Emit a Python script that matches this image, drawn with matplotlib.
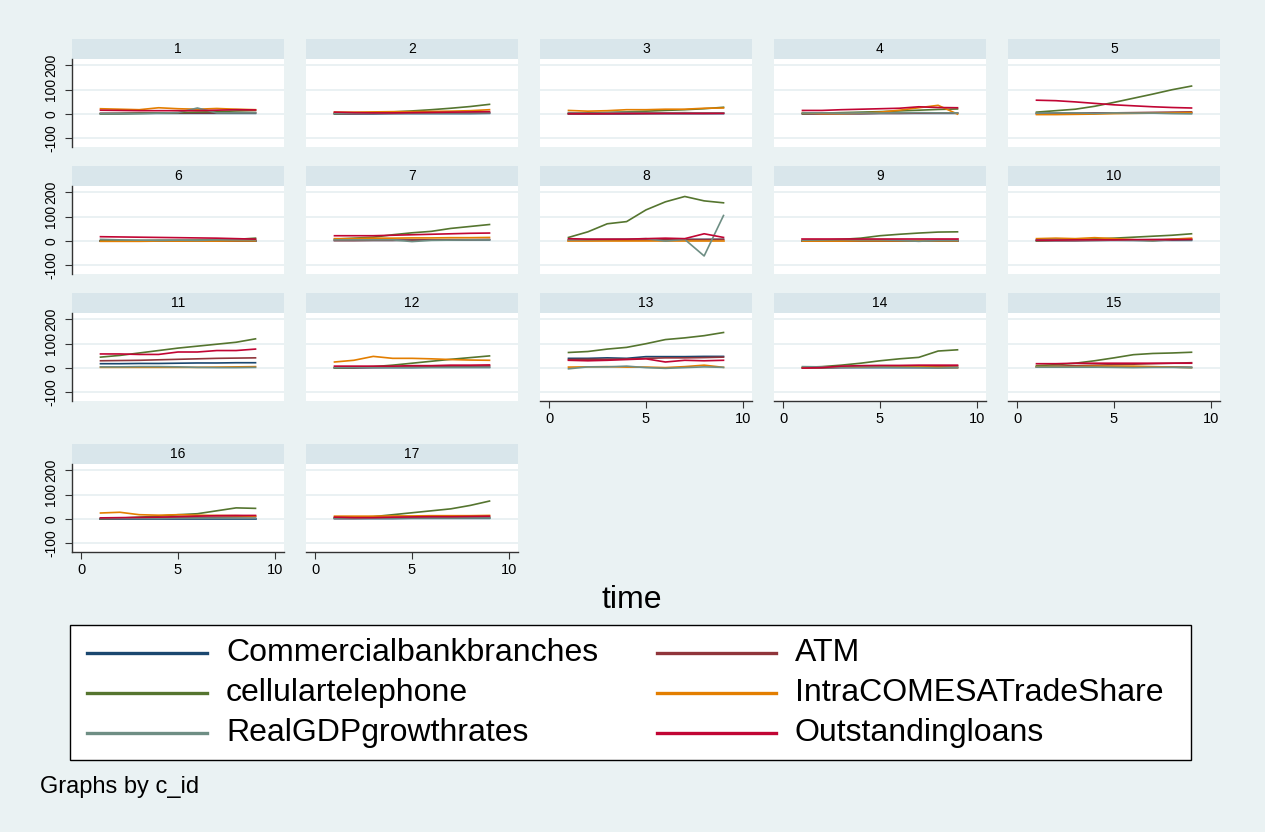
import matplotlib
matplotlib.use("Agg")
import matplotlib.pyplot as plt
from matplotlib.patches import Rectangle
from matplotlib.lines import Line2D

plt.rcParams["font.family"] = ["Liberation Sans", "DejaVu Sans"]
plt.rcParams["axes.unicode_minus"] = False

BG, STRIP, GRID = "#EAF2F3", "#D9E6EB", "#E6EFF1"

time = [1, 2, 3, 4, 5, 6, 7, 8, 9]
panels = list(range(1, 18))

series_names = ["Commercialbankbranches", "ATM", "cellulartelephone",
                "IntraCOMESATradeShare", "RealGDPgrowthrates", "Outstandingloans"]
series_colors = ["#1A476F", "#90353B", "#55752F", "#E37E00", "#6E8E84", "#C10534"]

# one row per c_id (1..17), one value per time (1..9)
branches = [
    [2, 2, 3, 3, 3, 3, 3, 3, 3], [1, 1, 1, 2, 2, 2, 2, 2, 3], [1, 1, 1, 1, 2, 2, 2, 2, 2],
    [2, 2, 2, 2, 3, 3, 3, 3, 3], [3, 3, 3, 4, 4, 4, 4, 5, 5], [2, 2, 2, 2, 2, 2, 2, 2, 2],
    [3, 3, 3, 3, 4, 4, 4, 5, 5], [5, 6, 6, 6, 6, 7, 7, 7, 7], [2, 2, 2, 2, 2, 2, 2, 2, 2],
    [2, 2, 2, 3, 3, 3, 3, 3, 3], [18, 18, 19, 19, 20, 21, 21, 22, 22], [1, 1, 2, 2, 2, 3, 3, 3, 3],
    [40, 40, 42, 40, 47, 47, 47, 48, 48], [1, 1, 2, 2, 2, 2, 2, 2, 2], [4, 4, 4, 4, 4, 4, 4, 4, 3],
    [1, 1, 1, 1, 1, 1, 1, 1, 1], [2, 2, 2, 2, 3, 3, 3, 3, 3],
]
atm = [
    [3, 3, 4, 4, 5, 5, 5, 6, 6], [2, 2, 3, 3, 4, 4, 5, 5, 6], [1, 1, 2, 2, 2, 3, 3, 3, 4],
    [1, 1, 2, 2, 3, 3, 4, 4, 5], [2, 2, 3, 4, 5, 6, 7, 8, 9], [1, 1, 1, 2, 2, 2, 2, 2, 3],
    [2, 2, 3, 3, 4, 5, 6, 6, 7], [3, 3, 4, 4, 5, 5, 6, 6, 7], [1, 1, 1, 2, 2, 2, 2, 3, 3],
    [1, 2, 2, 3, 4, 5, 6, 7, 8], [30, 31, 32, 34, 36, 38, 40, 41, 42], [2, 2, 3, 4, 5, 6, 7, 8, 9],
    [35, 36, 36, 37, 40, 42, 42, 43, 45], [1, 2, 3, 4, 5, 6, 7, 8, 9], [6, 8, 10, 12, 14, 16, 18, 20, 22],
    [2, 3, 4, 5, 6, 7, 8, 9, 10], [3, 3, 4, 5, 5, 6, 6, 7, 8],
]
cellular = [
    [1, 2, 3, 4, 6, 8, 10, 13, 15], [2, 4, 6, 9, 13, 18, 24, 31, 40], [3, 5, 7, 9, 12, 15, 18, 22, 28],
    [2, 4, 6, 8, 10, 13, 16, 19, 21], [8, 14, 20, 32, 48, 65, 82, 100, 115], [1, 2, 2, 3, 3, 4, 5, 7, 12],
    [8, 12, 16, 26, 34, 40, 52, 60, 68], [15, 38, 71, 80, 128, 161, 183, 165, 157], [2, 4, 7, 12, 22, 28, 33, 37, 38],
    [2, 4, 6, 9, 12, 16, 20, 24, 30], [45, 52, 62, 72, 82, 90, 98, 106, 120], [1, 3, 6, 12, 20, 28, 36, 43, 50],
    [64, 68, 78, 85, 100, 117, 124, 133, 146], [3, 6, 12, 20, 30, 38, 44, 70, 75], [10, 14, 20, 30, 42, 55, 60, 62, 65],
    [2, 4, 8, 12, 18, 22, 34, 46, 44], [4, 7, 10, 18, 26, 34, 42, 56, 74],
]
comesa = [
    [22, 20, 18, 26, 22, 20, 23, 20, 18], [8, 8, 9, 10, 10, 11, 12, 14, 18], [15, 12, 14, 18, 18, 20, 20, 24, 25],
    [6, 2, 2, 4, 8, 16, 26, 36, 0], [-2, -2, -1, 0, 2, 3, 4, 5, 6], [-1, -1, -1, 0, 0, 0, 0, 1, 1],
    [10, 10, 12, 12, 13, 13, 14, 14, 15], [-1, -1, -1, -1, -1, -1, -1, -1, -1], [0, 0, 0, 1, 1, 1, 1, 1, 1],
    [10, 12, 10, 14, 10, 6, 2, 8, 12], [3, 3, 3, 3, 3, 3, 4, 5, 6], [25, 32, 48, 40, 40, 38, 35, 33, 32],
    [4, 5, 6, 4, 4, 2, 6, 12, 3], [2, 3, 4, 4, 5, 5, 5, 3, 2], [6, 6, 6, 8, 8, 8, 6, 4, 2],
    [25, 28, 18, 16, 18, 16, 15, 14, 12], [12, 12, 12, 13, 13, 14, 14, 14, 15],
]
gdp_growth = [
    [2, 2, 2, 4, 6, 25, 5, 5, 5], [3, 4, 4, 5, 5, 5, 5, 5, 5], [6, 3, 5, 7, 6, 5, 6, 4, 5],
    [5, 5, 4, 5, 4, 5, 6, 5, 5], [4, 5, 5, 3, 5, 4, 4, 2, 1], [7, 5, 4, 3, 4, 3, 5, 5, 5],
    [5, 5, 5, 5, -2, 3, 4, 5, 5], [5, 6, 7, 8, 10, 0, 7, -61, 105], [4, 5, 6, 5, 5, 3, -1, 3, 3],
    [5, 6, 4, 3, 4, 3, 0, 6, 5], [5, 5, 6, 6, 5, 3, 2, 2, 3], [2, 3, 3, 3, 3, 3, 3, 3, 3],
    [-3, 5, 5, 8, 2, -1, 2, 5, 3], [6, 5, 4, 5, 4, 3, 2, 0, 2], [4, 4, 4, 4, 3, 2, 3, 3, 2],
    [3, 3, 3, 3, 4, 4, 4, 4, 4], [4, 4, 4, 4, 4, 4, 4, 4, 4],
]
loans = [
    [16, 15, 14, 14, 14, 14, 16, 18, 17], [8, 6, 5, 5, 6, 7, 8, 9, 10], [2, 2, 2, 3, 3, 3, 3, 3, 3],
    [15, 15, 18, 20, 22, 24, 30, 27, 26], [57, 55, 50, 44, 38, 34, 30, 27, 25], [18, 17, 16, 15, 14, 13, 12, 10, 8],
    [22, 22, 22, 24, 26, 28, 30, 32, 33], [10, 8, 8, 8, 10, 12, 10, 30, 15], [10, 10, 10, 10, 10, 10, 10, 10, 10],
    [4, 4, 5, 5, 5, 6, 6, 6, 7], [58, 58, 56, 56, 66, 66, 72, 72, 78], [8, 8, 8, 8, 10, 10, 12, 12, 13],
    [32, 30, 32, 35, 38, 25, 32, 30, 32], [0, 2, 8, 10, 11, 11, 12, 12, 12], [18, 18, 20, 20, 20, 20, 20, 20, 20],
    [5, 6, 7, 8, 10, 12, 14, 15, 15], [8, 6, 6, 8, 9, 10, 10, 11, 12],
]
all_series = [branches, atm, cellular, comesa, gdp_growth, loans]

W, H = 1265, 832
fig = plt.figure(figsize=(W / 100, H / 100), dpi=100, facecolor=BG)


def fx(px):
    return px / W


def fy(py):
    return 1 - py / H


col_left = [72, 306, 540, 774, 1008]
row_top = [59, 186, 313, 464]
pw, ph = 212, 88
strip_h = 20

for i, cid in enumerate(panels):
    r, c = divmod(i, 5)
    x0, y0 = col_left[c], row_top[r]
    ax = fig.add_axes([fx(x0), fy(y0 + ph), pw / W, ph / H])
    ax.set_facecolor("white")
    for s, col in zip(all_series, series_colors):
        ax.plot(time, s[i], color=col, lw=1.2)
    ax.set_xlim(-0.47, 10.47)
    ax.set_ylim(-135, 226)
    ax.set_yticks([-100, 0, 100, 200])
    ax.set_xticks([0, 5, 10])
    for y in [-100, 0, 100, 200]:
        ax.axhline(y, color=GRID, lw=1.2, zorder=0)
    for side in ["top", "right"]:
        ax.spines[side].set_visible(False)
    bottom_row = cid > 12
    ax.spines["bottom"].set_visible(bottom_row)
    ax.spines["left"].set_visible(c == 0)
    for side in ["bottom", "left"]:
        ax.spines[side].set_color("#333333")
        ax.spines[side].set_linewidth(1.0)
    ax.tick_params(axis="x", bottom=bottom_row, labelbottom=bottom_row, length=5,
                   color="#333333", labelsize=10.5, pad=3)
    ax.tick_params(axis="y", left=(c == 0), labelleft=(c == 0), length=5,
                   color="#333333", labelsize=10, pad=5)
    for lab in ax.get_yticklabels():
        lab.set_rotation(90)
        lab.set_va("center")
    # strip with panel id
    ax.add_patch(Rectangle((0, 1.0), 1, strip_h / ph, transform=ax.transAxes,
                           facecolor=STRIP, edgecolor="none", clip_on=False))
    ax.text(0.5, 1 + strip_h / ph / 2, str(cid), transform=ax.transAxes,
            ha="center", va="center", fontsize=10)

fig.text(fx(632), fy(600), "time", ha="center", va="center", fontsize=23)
fig.text(fx(40), fy(787), "Graphs by c_id", ha="left", va="center", fontsize=17)

# legend box, entries laid out row by row in two columns
fig.add_artist(Rectangle((fx(70), fy(760)), fx(1191) - fx(70), fy(625) - fy(760),
                         transform=fig.transFigure, facecolor="white",
                         edgecolor="black", lw=1.0))
leg_rows = [653, 693, 733]
leg_cols = [(87, 207, 226), (657, 776, 795)]
for k, (name, col) in enumerate(zip(series_names, series_colors)):
    r, c = divmod(k, 2)
    x1, x2, xt = leg_cols[c]
    y = fy(leg_rows[r])
    fig.add_artist(Line2D([fx(x1), fx(x2)], [y, y], transform=fig.transFigure,
                          color=col, lw=2.4))
    fig.text(fx(xt), y, name, ha="left", va="center", fontsize=23)

fig.savefig("out.png", dpi=100, facecolor=BG)
